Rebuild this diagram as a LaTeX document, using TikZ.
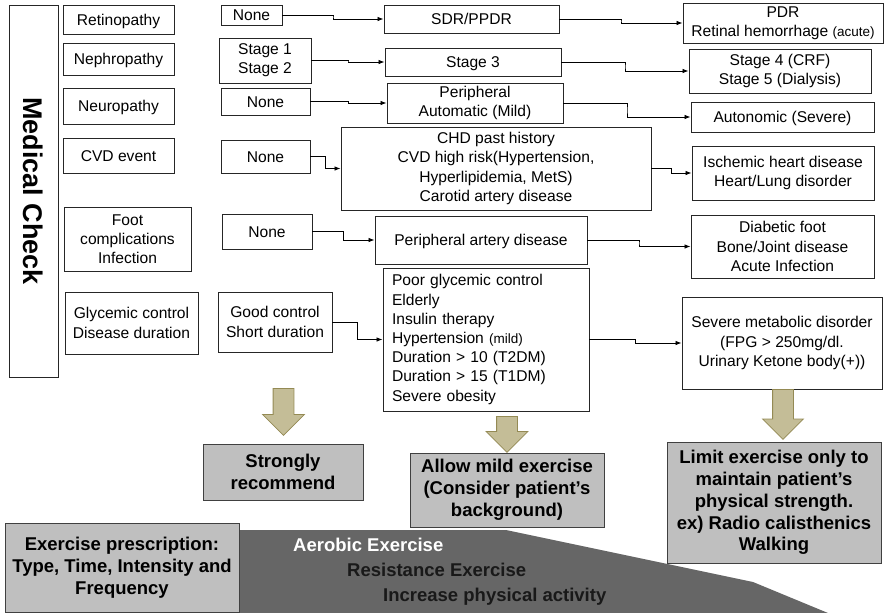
\documentclass[tikz,border=0pt]{standalone}
\usepackage{fontspec}
\setmainfont{Liberation Sans}
\usetikzlibrary{arrows.meta,calc,shapes.arrows}
\definecolor{advicegray}{HTML}{BFBFBF}
\definecolor{advicedraw}{HTML}{404040}
\definecolor{slopegray}{HTML}{666666}
\definecolor{tanfill}{HTML}{C4BD97}
\definecolor{tandraw}{HTML}{948A54}
\tikzset{
  check-box/.style={draw=black!85, fill=white, line width=0.9pt, inner sep=0pt, align=center,
    font=\fontsize{15.6}{19.2}\selectfont},
  one-line/.style={text height=11.2pt, text depth=0pt},
  advice-box/.style={draw=advicedraw, fill=advicegray, line width=1pt, inner sep=0pt, align=center,
    font=\fontsize{18.5}{21.8}\selectfont\bfseries},
  slope-text/.style={anchor=west, inner sep=0pt, font=\fontsize{18.5}{21.8}\selectfont\bfseries},
  step-link/.style={line width=0.8pt, -{Latex[length=6pt,width=4.5pt]},
    to path={-| ($(\tikztostart)!0.5!(\tikztotarget)$) |- (\tikztotarget)}},
  down-arrow/.style={single arrow, shape border rotate=270, draw=tandraw, fill=tanfill, anchor=tail,
    line width=0.8pt, inner sep=10pt, single arrow head extend=10.5pt, single arrow tip angle=90}
}

\begin{document}
\begin{tikzpicture}[x=1pt, y=-1pt]
  \useasboundingbox (0,0) rectangle (884,613);
  % left title
  \node[check-box, minimum width=49pt, minimum height=372pt] (check) at (33.5,191) {};
  \node[font=\fontsize{27}{30}\selectfont\bfseries, rotate=-90] (check-title) at (check.center) {Medical Check};
  % items
  \node[check-box, one-line, minimum width=111pt, minimum height=29pt] (retino-item) at (118.5,19.5) {Retinopathy};
  \node[check-box, one-line, minimum width=111pt, minimum height=32pt] (nephro-item) at (118.5,59) {Nephropathy};
  \node[check-box, one-line, minimum width=111pt, minimum height=36pt] (neuro-item) at (118.5,106) {Neuropathy};
  \node[check-box, one-line, minimum width=111pt, minimum height=35pt] (cvd-item) at (118.5,155.5) {CVD event};
  \node[check-box, minimum width=127pt, minimum height=64pt] (foot-item) at (127.5,239) {Foot\\complications\\Infection};
  \node[check-box, minimum width=133pt, minimum height=62pt] (glyc-item) at (131.5,323) {Glycemic control\\Disease duration};
  % low risk
  \node[check-box, one-line, minimum width=61pt, minimum height=20pt] (retino-low) at (251.5,15) {None};
  \node[check-box, minimum width=92pt, minimum height=45pt] (nephro-low) at (265,60.5) {Stage 1\\Stage 2};
  \node[check-box, one-line, minimum width=89pt, minimum height=27pt] (neuro-low) at (265.5,101.5) {None};
  \node[check-box, one-line, minimum width=89pt, minimum height=33pt] (cvd-low) at (265.5,156.5) {None};
  \node[check-box, one-line, minimum width=90pt, minimum height=35pt] (foot-low) at (267,231.5) {None};
  \node[check-box, minimum width=114pt, minimum height=60pt] (glyc-low) at (275,322) {Good control\\Short duration};
  % middle risk
  \node[check-box, one-line, minimum width=175pt, minimum height=28pt] (retino-mid) at (471.5,19) {SDR/PPDR};
  \node[check-box, one-line, minimum width=176pt, minimum height=28pt] (nephro-mid) at (473,62) {Stage 3};
  \node[check-box, minimum width=176pt, minimum height=40pt] (neuro-mid) at (475,103) {Peripheral\\Automatic (Mild)};
  \node[check-box, minimum width=310pt, minimum height=83pt] (cvd-mid) at (496,168.5) {CHD past history\\CVD high risk(Hypertension,\\Hyperlipidemia, MetS)\\Carotid artery disease};
  \node[check-box, one-line, minimum width=212pt, minimum height=48pt] (foot-mid) at (481,240) {Peripheral artery disease};
  \node[check-box, text width=188pt, inner xsep=9pt, minimum height=143pt, align=left] (glyc-mid) at (486,339.5) {Poor glycemic control\\Elderly\\Insulin therapy\\Hypertension {\fontsize{13.5}{15}\selectfont (mild)}\\Duration > 10 (T2DM)\\Duration > 15 (T1DM)\\Severe obesity};
  % high risk
  \node[check-box, minimum width=200pt, minimum height=40pt] (retino-high) at (783,23) {PDR\\Retinal hemorrhage {\fontsize{13.5}{15}\selectfont (acute)}};
  \node[check-box, minimum width=182pt, minimum height=44pt] (nephro-high) at (780,71) {Stage 4 (CRF)\\Stage 5 (Dialysis)};
  \node[check-box, one-line, minimum width=183pt, minimum height=30pt] (neuro-high) at (782.5,117) {Autonomic (Severe)};
  \node[check-box, minimum width=182pt, minimum height=54pt] (cvd-high) at (783,173) {Ischemic heart disease\\Heart/Lung disorder};
  \node[check-box, minimum width=183pt, minimum height=63pt] (foot-high) at (782.5,246.5) {Diabetic foot\\Bone/Joint disease\\Acute Infection};
  \node[check-box, minimum width=200pt, minimum height=92pt] (glyc-high) at (782,343) {Severe metabolic disorder\\(FPG > 250mg/dl.\\Urinary Ketone body(+))};
  % links
  \draw[step-link] (retino-low.east) to (retino-mid.west);
  \draw[step-link] (retino-mid.east) to (retino-high.west);
  \draw[step-link] (nephro-low.east) to (nephro-mid.west);
  \draw[step-link] (nephro-mid.east) to (nephro-high.west);
  \draw[step-link] (neuro-low.east) to (neuro-mid.west);
  \draw[step-link] (neuro-mid.east) to (neuro-high.west);
  \draw[step-link] (cvd-low.east) to (cvd-mid.west);
  \draw[step-link] (cvd-mid.east) to (cvd-high.west);
  \draw[step-link] (foot-low.east) to (foot-mid.west);
  \draw[step-link] (foot-mid.east) to (foot-high.west);
  \draw[step-link] (glyc-low.east) to (glyc-mid.west);
  \draw[step-link] (glyc-mid.east) to (glyc-high.west);
  % advice
  \node[down-arrow, minimum height=47pt] (low-arrow) at (283.5,388) {};
  \node[down-arrow, minimum height=36pt] (mid-arrow) at (507,416) {};
  \node[down-arrow, minimum height=50pt, single arrow head extend=10pt] (high-arrow) at (783,389) {};
  \node[advice-box, minimum width=160pt, minimum height=56pt] (low-advice) at (283,472) {Strongly\\recommend};
  \node[advice-box, minimum width=194pt, minimum height=74pt] (mid-advice) at (507,490) {Allow mild exercise\\(Consider patient's\\background)};
  \node[advice-box, minimum width=214pt, minimum height=121pt] (high-advice) at (774,502.5) {Limit exercise only to\\maintain patient's\\physical strength.\\ex) Radio calisthenics\\Walking};
  % exercise slope
  \fill[slopegray] (239,530) -- (506,530) -- (753,582) -- (828,613) -- (239,613) -- cycle;
  \node[advice-box, minimum width=234pt, minimum height=89pt] (prescription) at (122,567.5) {Exercise prescription:\\Type, Time, Intensity and\\Frequency};
  \node[slope-text, text=white] (aerobic-text) at (293,545) {Aerobic Exercise};
  \node[slope-text, text=black!90] (resistance-text) at (347,570) {Resistance Exercise};
  \node[slope-text, text=black!90] (activity-text) at (383,597) {Increase physical activity};
\end{tikzpicture}
\end{document}
